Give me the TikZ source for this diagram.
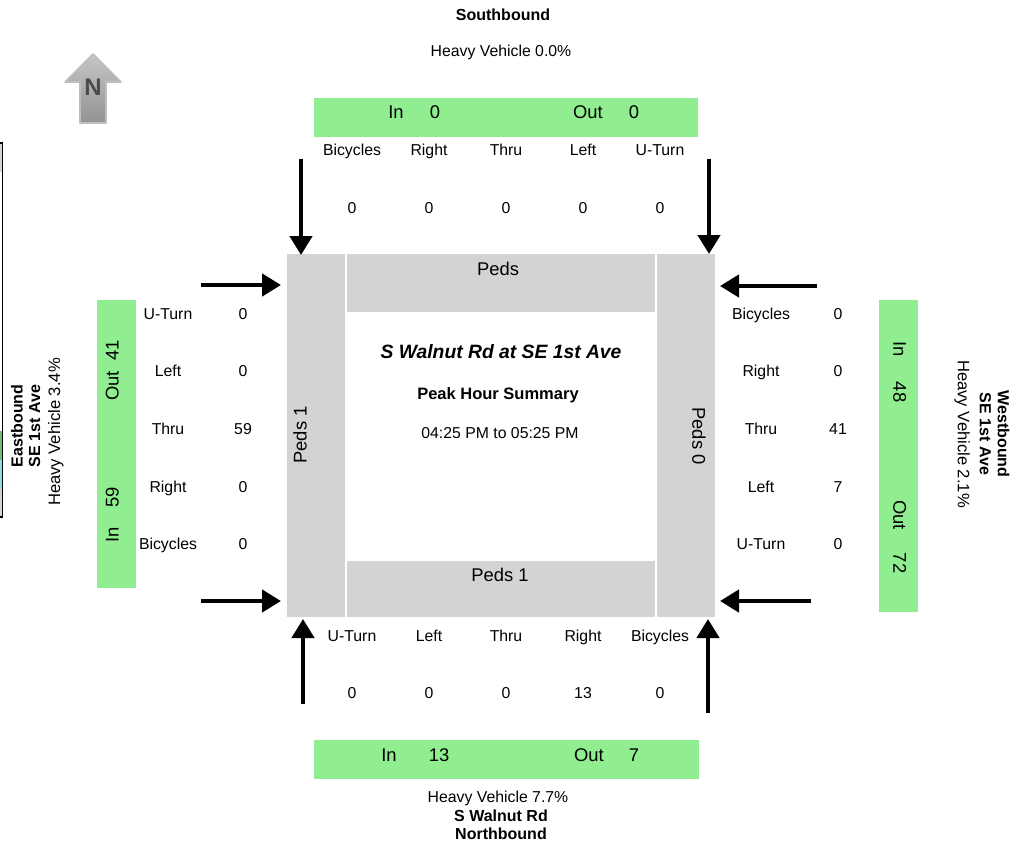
\documentclass[tikz,border=0pt]{standalone}
\usepackage{fontspec}
\setmainfont{Liberation Sans}
\usetikzlibrary{arrows.meta}
\definecolor{lgreen}{HTML}{90EE90}
\definecolor{lgray}{HTML}{D3D3D3}
\definecolor{lcyan}{HTML}{8FDDE0}
\tikzset{
  lab/.style={inner sep=0pt,text height=11.5pt,text depth=3.4pt,font=\fontsize{15.8}{18}\selectfont},
  big/.style={inner sep=0pt,text height=13pt,text depth=3.8pt,font=\fontsize{18.4}{20}\selectfont},
  bold/.style={lab,font=\fontsize{16}{18}\selectfont\bfseries},
  side/.style={lab,font=\fontsize{16.6}{18}\selectfont},
  gbox/.style={fill=lgreen,draw=none},
  pedbox/.style={fill=lgray,draw=none},
  flow/.style={draw=black,line width=4.5pt,-{Triangle[length=#1,width=22pt]}},
  flow/.default=19pt
}
\begin{document}
\begin{tikzpicture}[x=1pt,y=-1pt]
\useasboundingbox (0,0) rectangle (1024,846);
% cropped legend at the left edge
\fill[lgray] (0,143) rectangle (2,172);
\fill[lgray] (0,489) rectangle (2,517);
\fill[lgreen!80!black] (0,431) rectangle (2,460);
\fill[lcyan] (0,460) rectangle (2,489);
\draw[black,line width=1.3pt] (0,143) -- (2.3,143) -- (2.3,517) -- (0,517);
% north arrow
\draw[draw=lgray!90!black,line width=1.6pt,top color=gray!45,bottom color=gray!85,line join=round]
  (93,54) -- (121,82) -- (106,82) -- (106,123) -- (80,123) -- (80,82) -- (65,82) -- cycle;
\node[inner sep=0pt,font=\fontsize{24}{24}\selectfont\bfseries,text=black!70] (north) at (93,87) {N};
% green boxes
\path[gbox] (314,98) rectangle (698,137);
\path[gbox] (314,740) rectangle (699,779);
\path[gbox] (97,300) rectangle (136,588);
\path[gbox] (879,300) rectangle (918,612);
% crossing
\path[pedbox] (287,254) rectangle (345,617);
\path[pedbox] (657,254) rectangle (715,617);
\path[pedbox] (347,254) rectangle (655,312);
\path[pedbox] (347,561) rectangle (655,617);
% headings
\node[bold] (sb) at (503,16) {Southbound};
\node[lab] (sbhv) at (501,52) {Heavy Vehicle 0.0\%};
\node[lab] (nbhv) at (498,798) {Heavy Vehicle 7.7\%};
\node[bold] (nbn) at (501,817) {S Walnut Rd};
\node[bold] (nb) at (501,835) {Northbound};
\node[bold,rotate=90] (eb) at (18.5,426) {Eastbound};
\node[bold,rotate=90] (ebn) at (36,426) {SE 1st Ave};
\node[side,rotate=90] (ebhv) at (56,432) {Heavy Vehicle 3.4\%};
\node[bold,rotate=-90] (wb) at (1002,434) {Westbound};
\node[bold,rotate=-90] (wbn) at (984,434) {SE 1st Ave};
\node[side,rotate=-90] (wbhv) at (962,434) {Heavy Vehicle 2.1\%};
% in/out
\node[big] (i1) at (396,114) {In};
\node[big] (i2) at (435,114) {0};
\node[big] (i3) at (588,114) {Out};
\node[big] (i4) at (634,114) {0};
\node[big] (o1) at (389,757) {In};
\node[big] (o2) at (439,757) {13};
\node[big] (o3) at (589,757) {Out};
\node[big] (o4) at (634,757) {7};
\node[big,rotate=90] (l1) at (114,386) {Out};
\node[big,rotate=90] (l2) at (114,350) {41};
\node[big,rotate=90] (l3) at (114,497) {59};
\node[big,rotate=90] (l4) at (114,535) {In};
\node[big,rotate=-90] (r1) at (898,349) {In};
\node[big,rotate=-90] (r2) at (898,392) {48};
\node[big,rotate=-90] (r3) at (898,515) {Out};
\node[big,rotate=-90] (r4) at (898,563) {72};
% ped labels and title
\node[big] (pt) at (498,271) {Peds};
\node[big] (pb) at (500,577) {Peds 1};
\node[big,rotate=90] (pl) at (302,435) {Peds 1};
\node[big,rotate=-90] (pr) at (697,436) {Peds 0};
\node[inner sep=0pt,font=\fontsize{19.3}{22}\selectfont\bfseries\itshape] (title) at (501,352) {S Walnut Rd at SE 1st Ave};
\node[bold,font=\fontsize{16.5}{18}\selectfont\bfseries] (peak) at (498,395) {Peak Hour Summary};
\node[lab] (time) at (500,434) {04:25 PM to 05:25 PM};
% movement tables
\foreach \n/\x/\t/\v in {a/352/Bicycles/0,b/429/Right/0,c/506/Thru/0,d/583/Left/0,e/660/U-Turn/0}{
  \node[lab] (t\n) at (\x,151) {\t};
  \node[lab] (tv\n) at (\x,209) {\v};
}
\foreach \n/\x/\t/\v in {a/352/U-Turn/0,b/429/Left/0,c/506/Thru/0,d/583/Right/13,e/660/Bicycles/0}{
  \node[lab] (b\n) at (\x,637) {\t};
  \node[lab] (bv\n) at (\x,694) {\v};
}
\foreach \n/\y/\t/\v in {a/315/U-Turn/0,b/372/Left/0,c/430/Thru/59,d/488/Right/0,e/545/Bicycles/0}{
  \node[lab] (w\n) at (168,\y) {\t};
  \node[lab] (wv\n) at (243,\y) {\v};
}
\foreach \n/\y/\t/\v in {a/315/Bicycles/0,b/372/Right/0,c/430/Thru/41,d/488/Left/7,e/545/U-Turn/0}{
  \node[lab] (e\n) at (761,\y) {\t};
  \node[lab] (ev\n) at (838,\y) {\v};
}
% arrows
\coordinate (a1s) at (301,159); \coordinate (a1e) at (301,255);
\coordinate (a2s) at (709,159); \coordinate (a2e) at (709,254);
\coordinate (a3s) at (201,285); \coordinate (a3e) at (281,285);
\coordinate (a4s) at (201,601); \coordinate (a4e) at (281,601);
\coordinate (a5s) at (817,286); \coordinate (a5e) at (720,286);
\coordinate (a6s) at (811,601); \coordinate (a6e) at (720,601);
\coordinate (a7s) at (303,704); \coordinate (a7e) at (303,619);
\coordinate (a8s) at (708,713); \coordinate (a8e) at (708,619);
\foreach \i in {1,...,8}{\draw[flow] (a\i s) -- (a\i e);}
\end{tikzpicture}
\end{document}
